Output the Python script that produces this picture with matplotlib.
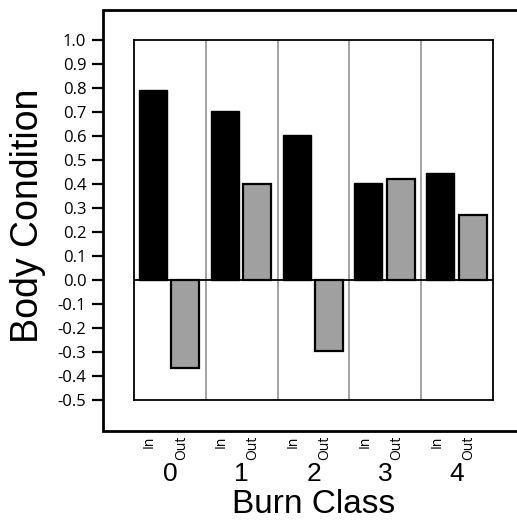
import matplotlib.pyplot as plt

# data
burn_class = ['0', '1', '2', '3', '4']
inside = [0.79, 0.705, 0.605, 0.403, 0.447]
outside = [-0.365, 0.40, -0.295, 0.422, 0.271]
y_ticks = [1.0, 0.9, 0.8, 0.7, 0.6, 0.5, 0.4, 0.3, 0.2, 0.1, 0.0,
           -0.1, -0.2, -0.3, -0.4, -0.5]

W, H = 517, 523
fig = plt.figure(figsize=(W / 100, H / 100), dpi=100)

il, it, ir, ib = 134, 40, 493, 400
ax = fig.add_axes([il / W, 1 - ib / H, (ir - il) / W, (ib - it) / H])
ymin, ymax = -0.5, 1.0
ax.set_xlim(0, len(burn_class))
ax.set_ylim(ymin, ymax)

# outer frame with the y ticks, open on the right (runs off the image)
ol, ot, ob = 103, 10, 431
scale = (ymax - ymin) / (ib - it)
outer = fig.add_axes([ol / W, 1 - ob / H, 1 - ol / W, (ob - ot) / H], zorder=-1)
outer.set_xlim(0, 1)
outer.set_ylim(ymin - (ob - ib) * scale, ymax + (it - ot) * scale)
outer.set_xticks([])
outer.set_yticks(y_ticks)
outer.set_yticklabels(['%.1f' % v for v in y_ticks], fontsize=12,
                      family='Open Sans')
outer.tick_params(axis='y', length=8, width=1.6, pad=4)
for s in outer.spines.values():
    s.set_visible(False)
outer.patch.set_alpha(0)
fx = outer.get_yaxis_transform()  # x in axes fraction, y in data
y0, y1 = outer.get_ylim()
outer.plot([1.05, 0, 0, 1.05], [y1, y1, y0, y0], color='black', linewidth=2,
           transform=fx, clip_on=False, solid_joinstyle='miter')

# bars
x = range(len(burn_class))
x_in = [i + 0.265 for i in x]
x_out = [i + 0.717 for i in x]
ax.bar(x_in, inside, width=0.39, color='black', edgecolor='black', linewidth=1, zorder=3)
ax.bar(x_out, outside, width=0.39, color='#a0a0a0', edgecolor='black', linewidth=1.6, zorder=3)

# dividers and zero line
for i in range(1, len(burn_class)):
    ax.axvline(i, color='#8a8a8a', linewidth=1.1, zorder=1)
ax.axhline(0, color='black', linewidth=1.3, zorder=4)

ax.set_xticks([])
ax.set_yticks([])
for s in ax.spines.values():
    s.set_linewidth(1.3)

# category labels below the frame
tr = ax.get_xaxis_transform()
for i, lab in enumerate(burn_class):
    ax.text(x_in[i] - 0.05, -0.1, 'In', rotation=90, ha='center', va='top',
            fontsize=10, family='Open Sans', transform=tr)
    ax.text(x_out[i] - 0.06, -0.1, 'Out', rotation=90, ha='center', va='top',
            fontsize=10, family='Open Sans', transform=tr)
    ax.text(i + 0.5, -0.205, lab, ha='center', va='center', fontsize=19,
            family='Liberation Sans', transform=tr)

ax.text(2.5, -0.29, 'Burn Class', ha='center', va='center', fontsize=24,
        family='Liberation Sans', transform=tr)
fig.text(28 / W, 1 - 216 / H, 'Body Condition', rotation=90, ha='center',
         va='center', fontsize=27, family='Liberation Sans')

fig.savefig('out.png', dpi=100)
